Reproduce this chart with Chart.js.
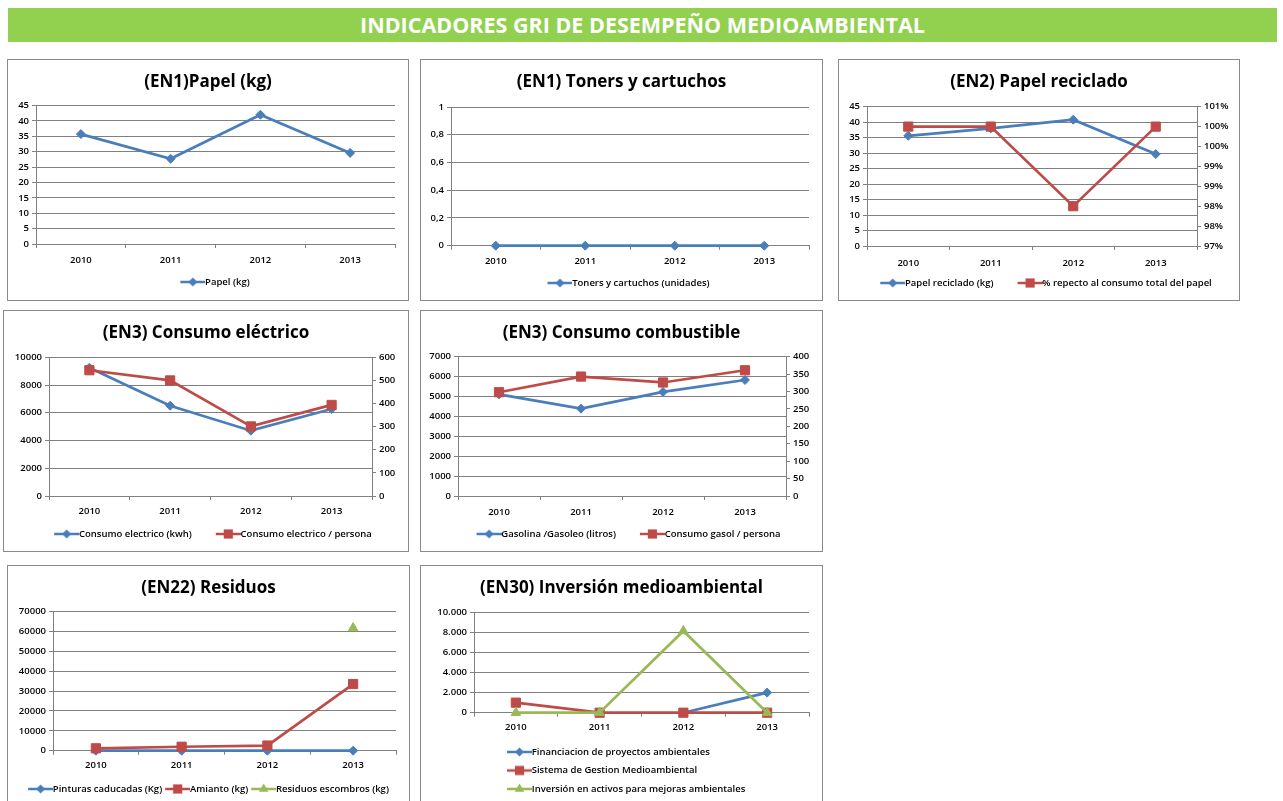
<!DOCTYPE html>
<html>
<head>
<meta charset="utf-8">
<script src="https://cdn.jsdelivr.net/npm/chart.js@4"></script>
<style>
  body { margin: 0; background: #fff; width: 1283px; height: 801px; overflow: hidden; position: relative; font-family: 'Open Sans', sans-serif; }
  #banner { position: absolute; left: 8px; top: 8px; width: 1269px; height: 34px; background: #92d050; color: #fff;
            font-weight: bold; font-size: 21.5px; line-height: 34px; text-align: center; }
  .box { position: absolute; border: 1px solid #8a8a8a; background: #fff; }
  .box canvas { display: block; }
</style>
</head>
<body>
<div id="banner">INDICADORES GRI DE DESEMPEÑO MEDIOAMBIENTAL</div>
<div class="box" style="left:7px;top:59px;width:400px;height:240px"><canvas id="c1" width="400" height="240"></canvas></div>
<div class="box" style="left:420px;top:59px;width:401px;height:240px"><canvas id="c2" width="401" height="240"></canvas></div>
<div class="box" style="left:838px;top:59px;width:400px;height:240px"><canvas id="c3" width="400" height="240"></canvas></div>
<div class="box" style="left:3px;top:310px;width:404px;height:240px"><canvas id="c4" width="404" height="240"></canvas></div>
<div class="box" style="left:420px;top:310px;width:401px;height:240px"><canvas id="c5" width="401" height="240"></canvas></div>
<div class="box" style="left:7px;top:565px;width:401px;height:245px"><canvas id="c6" width="401" height="240"></canvas></div>
<div class="box" style="left:420px;top:565px;width:401px;height:245px"><canvas id="c7" width="401" height="240"></canvas></div>

<script>
// data
const years = ['2010', '2011', '2012', '2013'];

const papelKg = [35.7, 27.7, 42.0, 29.6];
const tonersUnidades = [0, 0, 0, 0];
const papelReciclado = [35.6, 38.0, 40.8, 29.7];
const pctReciclado = [100.5, 100.5, 98.5, 100.5];
const consumoElectrico = [9250, 6510, 4710, 6270];
const electricoPersona = [544, 500, 301, 394];
const gasolina = [5110, 4390, 5230, 5830];
const gasolPersona = [298, 343, 326, 361];
const pinturas = [0, 0, 0, 0];
const amianto = [1200, 2000, 2600, 33570];
const escombros = [null, null, null, 61780];
const financiacion = [null, null, 0, 2000];
const sistemaGestion = [1000, 0, 0, 0];
const inversionActivos = [0, 0, 8140, 0];

const BLUE = '#4a7ebb', RED = '#be4b48', GREEN = '#98b954';
const GRID = '#808080';
const FS = 9.5;
const tickFont = { family: 'Open Sans', size: FS, weight: '600' };
const RADIUS = { rectRot: 4.5, rect: 6.5, triangle: 5.5 };

function series(label, data, color, shape, axis, order) {
  return {
    label: label, data: data, yAxisID: axis, order: order,
    borderColor: color, backgroundColor: color, borderWidth: 2.7,
    pointStyle: shape, pointRadius: RADIUS[shape],
    pointBackgroundColor: color, pointBorderColor: color, pointBorderWidth: 1,
    tension: 0, clip: false, spanGaps: false
  };
}

// line + marker icon like the Excel legend
function legendIcon(color, shape, lead) {
  const B = lead + 20, W = B + 10;
  const c = document.createElement('canvas');
  c.width = W; c.height = 14;
  const ctx = c.getContext('2d');
  const x0 = lead + 5, y = 7;
  ctx.strokeStyle = color; ctx.lineWidth = 2.5;
  ctx.beginPath(); ctx.moveTo(x0, y); ctx.lineTo(W, y); ctx.stroke();
  const mx = (x0 + W) / 2, r = RADIUS[shape];
  ctx.fillStyle = color;
  ctx.beginPath();
  if (shape === 'rectRot') {
    ctx.moveTo(mx - r, y); ctx.lineTo(mx, y - r); ctx.lineTo(mx + r, y); ctx.lineTo(mx, y + r);
  } else if (shape === 'rect') {
    const s = r * Math.SQRT1_2;
    ctx.rect(mx - s, y - s, 2 * s, 2 * s);
  } else {
    ctx.moveTo(mx, y - r); ctx.lineTo(mx + r * 0.87, y + r * 0.5); ctx.lineTo(mx - r * 0.87, y + r * 0.5);
  }
  ctx.closePath(); ctx.fill();
  return c;
}

function yAxis(pos, min, max, step, width, fmt, onArea) {
  return {
    type: 'linear', position: pos, min: min, max: max,
    ticks: { stepSize: step, color: '#000', font: tickFont, padding: 3, callback: fmt },
    grid: { drawOnChartArea: onArea, color: GRID, tickColor: GRID, tickLength: 4 },
    border: { display: true, color: GRID },
    afterFit: s => { s.width = width; }
  };
}

function padAxis(width) {
  return {
    type: 'linear', position: 'right', display: true,
    ticks: { display: false }, grid: { display: false, drawTicks: false }, border: { display: false },
    afterFit: s => { s.width = width; }
  };
}

function buildChart(id, title, g, datasets, scales) {
  const canvas = document.getElementById(id);
  const H = canvas.height;
  const legH = 10 + g.rows * (FS + g.pad);
  const legTop = g.legC - g.pad - FS / 2 - (g.rows - 1) * (FS + g.pad);
  const pb = H - legTop - legH;
  const xH = legTop - g.plotBottom;
  const shapes = datasets.map(d => d.pointStyle);

  scales.x = {
    type: 'category', offset: true,
    grid: { offset: true, drawOnChartArea: false, color: GRID, tickColor: GRID, tickLength: 4 },
    border: { display: true, color: GRID },
    ticks: { color: '#000', font: tickFont, padding: g.xLab - 8, maxRotation: 0, autoSkip: false },
    afterFit: s => { s.height = xH; }
  };

  return new Chart(canvas, {
    type: 'line',
    data: { labels: years, datasets: datasets },
    options: {
      responsive: false,
      animation: false,
      layout: { padding: { left: 0, right: 0, top: 0, bottom: pb } },
      scales: scales,
      plugins: {
        tooltip: { enabled: false },
        title: {
          display: true, text: title, color: '#000',
          font: { family: 'Open Sans', size: 17, weight: 'bold', lineHeight: 1.2 },
          padding: { top: g.titleC - 9.2, bottom: g.plotTop - g.titleC - 11.2 }
        },
        legend: {
          display: true, position: 'bottom',
          align: g.align || 'center', fullSize: g.fullSize !== false,
          labels: {
            usePointStyle: true, pointStyleWidth: g.lead + 20, padding: g.pad,
            color: '#000', font: tickFont,
            generateLabels: chart => chart.data.datasets.map((d, i) => ({
              text: d.label, datasetIndex: i, hidden: false,
              pointStyle: legendIcon(d.borderColor, shapes[i], g.lead),
              fillStyle: 'transparent', strokeStyle: 'transparent', lineWidth: 0
            }))
          }
        }
      }
    }
  });
}

const commaFmt = v => String(Math.round(v * 10) / 10).replace('.', ',');
const dotThousands = v => String(v).replace(/\B(?=(\d{3})+(?!\d))/g, '.');
const pctFmt = v => Math.floor(v + 1e-9) + '%';

buildChart('c1', '(EN1)Papel (kg)',
  { titleC: 21, plotTop: 45.5, plotBottom: 184, legC: 222, xLab: 15, rows: 1, pad: 10, lead: 14 },
  [series('Papel (kg)', papelKg, BLUE, 'rectRot', 'y', 1)],
  { y: yAxis('left', 0, 45, 5, 28, v => v, true), yPad: padAxis(13) });

buildChart('c2', '(EN1) Toners y cartuchos',
  { titleC: 21, plotTop: 47, plotBottom: 185.7, legC: 223, xLab: 14.3, rows: 1, pad: 10, lead: 14 },
  [series('Toners y cartuchos (unidades)', tonersUnidades, BLUE, 'rectRot', 'y', 1)],
  { y: yAxis('left', 0, 1, 0.2, 30, commaFmt, true), yPad: padAxis(13) });

buildChart('c3', '(EN2) Papel reciclado',
  { titleC: 21, plotTop: 46.7, plotBottom: 186, legC: 223, xLab: 15.7, rows: 1, pad: 10, lead: 14 },
  [series('Papel reciclado (kg)', papelReciclado, BLUE, 'rectRot', 'y', 2),
   series('% repecto al consumo total del papel', pctReciclado, RED, 'rect', 'y1', 1)],
  { y: yAxis('left', 0, 45, 5, 28, v => v, true), y1: yAxis('right', 97.5, 101, 0.5, 42, pctFmt, false) });

buildChart('c4', '(EN3) Consumo eléctrico',
  { titleC: 21, plotTop: 46.3, plotBottom: 185, legC: 223, xLab: 14, rows: 1, pad: 10, lead: 14 },
  [series('Consumo electrico (kwh)', consumoElectrico, BLUE, 'rectRot', 'y', 2),
   series('Consumo electrico / persona', electricoPersona, RED, 'rect', 'y1', 1)],
  { y: yAxis('left', 0, 10000, 2000, 45, v => v, true), y1: yAxis('right', 0, 600, 100, 36, v => v, false) });

buildChart('c5', '(EN3) Consumo combustible',
  { titleC: 21, plotTop: 45.7, plotBottom: 185, legC: 223, xLab: 14.7, rows: 1, pad: 10, lead: 14 },
  [series('Gasolina /Gasoleo (litros)', gasolina, BLUE, 'rectRot', 'y', 2),
   series('Consumo gasol / persona', gasolPersona, RED, 'rect', 'y1', 1)],
  { y: yAxis('left', 0, 7000, 1000, 37, v => v, true), y1: yAxis('right', 0, 400, 50, 36, v => v, false) });

buildChart('c6', '(EN22) Residuos',
  { titleC: 21, plotTop: 45.7, plotBottom: 184.7, legC: 223, xLab: 13.3, rows: 1, pad: 3, lead: 0 },
  [series('Pinturas caducadas (Kg)', pinturas, BLUE, 'rectRot', 'y', 3),
   series('Amianto (kg)', amianto, RED, 'rect', 'y', 2),
   series('Residuos escombros (kg)', escombros, GREEN, 'triangle', 'y', 1)],
  { y: yAxis('left', 0, 70000, 10000, 45, v => v, true), yPad: padAxis(13) });

buildChart('c7', '(EN30) Inversión medioambiental',
  { titleC: 21, plotTop: 46.3, plotBottom: 146.7, legC: 223, xLab: 13, rows: 3, pad: 9, lead: 24,
    align: 'start', fullSize: false },
  [series('Financiacion de proyectos ambientales', financiacion, BLUE, 'rectRot', 'y', 3),
   series('Sistema de Gestion Medioambiental', sistemaGestion, RED, 'rect', 'y', 2),
   series('Inversión en activos para mejoras ambientales', inversionActivos, GREEN, 'triangle', 'y', 1)],
  { y: yAxis('left', 0, 10000, 2000, 53, dotThousands, true), yPad: padAxis(13) });
</script>
</body>
</html>
